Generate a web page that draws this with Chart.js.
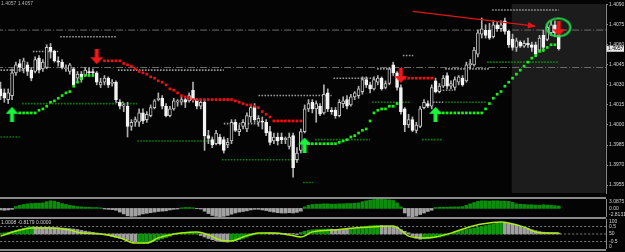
<!DOCTYPE html>
<html>
<head>
<meta charset="utf-8">
<script src="https://cdn.jsdelivr.net/npm/chart.js@4.4.0/dist/chart.umd.min.js"></script>
<style>
  html, body { margin: 0; padding: 0; background: #040404; width: 625px; height: 252px; overflow: hidden; }
  canvas { position: absolute; left: 0; }
  .sep { position: absolute; left: 0; width: 606px; height: 2px; background: #8a8a8a; }
</style>
</head>
<body>
<canvas id="main" width="625" height="197" style="top:0"></canvas>
<canvas id="osc1" width="625" height="18" style="top:199px"></canvas>
<canvas id="osc2" width="625" height="30" style="top:219px"></canvas>
<div class="sep" style="top:197px"></div>
<div class="sep" style="top:217px"></div>
<div class="sep" style="top:249px"></div>
<script>
const _ = null;

// price axis labels
const priceTicks = [1.4090, 1.4075, 1.4060, 1.4045, 1.4030, 1.4015, 1.4000, 1.3985, 1.3970, 1.3955];

// candles, one per bar index
const opens = [
  1.4027, 1.4024, 1.4019, 1.4022, 1.4039, 1.4046, 1.4042, 1.4045, 1.4041, 1.4040,
  1.4050, 1.4042, 1.4043, 1.4058, 1.4055, 1.4048, 1.4047, 1.4042, 1.4040, 1.4042,
  1.4035, 1.4038, 1.4037, 1.4040, 1.4040, 1.4039, 1.4030, 1.4032, 1.4035, 1.4031,
  1.4032, 1.4017, 1.4014, 1.4014, 1.3999, 1.4002, 1.4002, 1.4009, 1.4004, 1.4007,
  1.4013, 1.4019, 1.4020, 1.4014, 1.4007, 1.4012, 1.4017, 1.4017, 1.4019, 1.4018,
  1.4026, 1.4019, 1.4014, 1.4017, 1.3992, 1.3989, 1.3986, 1.3991, 1.3989, 1.3985,
  1.3988, 1.4002, 1.3995, 1.3999, 1.3997, 1.4006, 1.4014, 1.4002, 1.4003, 1.4002,
  1.3995, 1.3988, 1.3991, 1.3991, 1.3989, 1.3984, 1.3992, 1.3974, 1.3981, 1.3995,
  1.4012, 1.4017, 1.4012, 1.4014, 1.4009, 1.4024, 1.4011, 1.4011, 1.4007, 1.4016,
  1.4019, 1.4015, 1.4021, 1.4022, 1.4025, 1.4034, 1.4030, 1.4027, 1.4032, 1.4035,
  1.4028, 1.4031, 1.4045, 1.4039, 1.4028, 1.4012, 1.4000, 1.4004, 1.3996, 1.3999,
  1.4013, 1.4016, 1.4014, 1.4033, 1.4025, 1.4029, 1.4037, 1.4029, 1.4028, 1.4032,
  1.4035, 1.4033, 1.4045, 1.4045, 1.4053, 1.4068, 1.4071, 1.4071, 1.4066, 1.4075,
  1.4072, 1.4078, 1.4070, 1.4064, 1.4058, 1.4062, 1.4059, 1.4061, 1.4060, 1.4060,
  1.4056, 1.4067, 1.4064, 1.4069, 1.4075, 1.4067
];
const closes = [
  1.4022, 1.4020, 1.4024, 1.4039, 1.4045, 1.4043, 1.4048, 1.4040, 1.4035, 1.4049,
  1.4041, 1.4047, 1.4058, 1.4055, 1.4048, 1.4047, 1.4043, 1.4043, 1.4045, 1.4030,
  1.4038, 1.4034, 1.4041, 1.4039, 1.4039, 1.4032, 1.4032, 1.4035, 1.4030, 1.4032,
  1.4019, 1.4014, 1.4015, 1.3999, 1.4002, 1.4004, 1.4009, 1.4003, 1.4008, 1.4013,
  1.4018, 1.4020, 1.4014, 1.4007, 1.4012, 1.4018, 1.4018, 1.4019, 1.4017, 1.4022,
  1.4019, 1.4014, 1.4017, 1.3992, 1.3990, 1.3985, 1.3994, 1.3986, 1.3981, 1.3987,
  1.4002, 1.3996, 1.3997, 1.4002, 1.4007, 1.4013, 1.4004, 1.4005, 1.4002, 1.3994,
  1.3987, 1.3991, 1.3988, 1.3989, 1.3990, 1.3991, 1.3968, 1.3979, 1.3995, 1.4012,
  1.4016, 1.4012, 1.4016, 1.4008, 1.4023, 1.4012, 1.4010, 1.4007, 1.4017, 1.4018,
  1.4014, 1.4021, 1.4024, 1.4027, 1.4034, 1.4030, 1.4027, 1.4034, 1.4035, 1.4027,
  1.4031, 1.4042, 1.4039, 1.4028, 1.4010, 1.4000, 1.4004, 1.3996, 1.4000, 1.4012,
  1.4017, 1.4014, 1.4028, 1.4025, 1.4029, 1.4035, 1.4029, 1.4031, 1.4034, 1.4036,
  1.4030, 1.4045, 1.4046, 1.4056, 1.4069, 1.4072, 1.4067, 1.4065, 1.4075, 1.4072,
  1.4075, 1.4070, 1.4060, 1.4058, 1.4063, 1.4059, 1.4061, 1.4060, 1.4058, 1.4053,
  1.4065, 1.4058, 1.4073, 1.4075, 1.4069, 1.4057
];
const highs = [
  1.4032, 1.4027, 1.4027, 1.4042, 1.4047, 1.4049, 1.4050, 1.4047, 1.4043, 1.4051,
  1.4052, 1.4049, 1.4060, 1.4061, 1.4056, 1.4051, 1.4049, 1.4045, 1.4046, 1.4043,
  1.4040, 1.4040, 1.4043, 1.4043, 1.4042, 1.4040, 1.4035, 1.4037, 1.4036, 1.4034,
  1.4033, 1.4019, 1.4016, 1.4017, 1.4004, 1.4006, 1.4012, 1.4012, 1.4010, 1.4015,
  1.4019, 1.4024, 1.4022, 1.4016, 1.4014, 1.4020, 1.4019, 1.4021, 1.4020, 1.4024,
  1.4032, 1.4020, 1.4019, 1.4019, 1.3996, 1.3991, 1.3996, 1.3993, 1.3991, 1.3990,
  1.4004, 1.4004, 1.4000, 1.4004, 1.4009, 1.4015, 1.4016, 1.4007, 1.4006, 1.4004,
  1.3999, 1.3994, 1.3994, 1.3994, 1.3991, 1.3994, 1.3994, 1.3983, 1.3997, 1.4015,
  1.4019, 1.4019, 1.4018, 1.4016, 1.4030, 1.4027, 1.4013, 1.4013, 1.4019, 1.4021,
  1.4022, 1.4023, 1.4025, 1.4029, 1.4036, 1.4036, 1.4032, 1.4036, 1.4037, 1.4036,
  1.4033, 1.4043, 1.4047, 1.4040, 1.4030, 1.4013, 1.4008, 1.4006, 1.4002, 1.4014,
  1.4019, 1.4018, 1.4030, 1.4035, 1.4031, 1.4037, 1.4039, 1.4033, 1.4036, 1.4037,
  1.4037, 1.4047, 1.4049, 1.4058, 1.4071, 1.4080, 1.4075, 1.4076, 1.4078, 1.4077,
  1.4078, 1.4080, 1.4071, 1.4068, 1.4065, 1.4063, 1.4063, 1.4065, 1.4062, 1.4062,
  1.4067, 1.4071, 1.4075, 1.4078, 1.4078, 1.4068
];
const lows = [
  1.4019, 1.4017, 1.4016, 1.4019, 1.4037, 1.4040, 1.4039, 1.4037, 1.4033, 1.4039,
  1.4039, 1.4040, 1.4042, 1.4050, 1.4047, 1.4044, 1.4042, 1.4040, 1.4038, 1.4029,
  1.4033, 1.4032, 1.4037, 1.4037, 1.4037, 1.4030, 1.4028, 1.4030, 1.4028, 1.4029,
  1.4017, 1.4012, 1.4010, 1.3991, 1.3996, 1.3999, 1.3999, 1.4001, 1.4002, 1.4006,
  1.4012, 1.4018, 1.4012, 1.4006, 1.4006, 1.4011, 1.4014, 1.4015, 1.4013, 1.4017,
  1.4017, 1.4012, 1.4012, 1.3981, 1.3986, 1.3983, 1.3985, 1.3985, 1.3979, 1.3983,
  1.3986, 1.3995, 1.3992, 1.3997, 1.3995, 1.4002, 1.4002, 1.3999, 1.3997, 1.3992,
  1.3985, 1.3986, 1.3985, 1.3986, 1.3986, 1.3982, 1.3961, 1.3972, 1.3979, 1.3994,
  1.4010, 1.4009, 1.4002, 1.4007, 1.4008, 1.4010, 1.4008, 1.4005, 1.4006, 1.4013,
  1.4012, 1.4014, 1.4019, 1.4020, 1.4023, 1.4028, 1.4024, 1.4026, 1.4030, 1.4026,
  1.4027, 1.4030, 1.4037, 1.4026, 1.4008, 1.3995, 1.3998, 1.3995, 1.3994, 1.3998,
  1.4012, 1.4013, 1.4012, 1.4024, 1.4024, 1.4028, 1.4027, 1.4027, 1.4026, 1.4030,
  1.4029, 1.4032, 1.4042, 1.4044, 1.4051, 1.4065, 1.4065, 1.4064, 1.4065, 1.4070,
  1.4070, 1.4068, 1.4058, 1.4056, 1.4055, 1.4058, 1.4058, 1.4058, 1.4055, 1.4051,
  1.4055, 1.4055, 1.4063, 1.4067, 1.4066, 1.4056
];

// trailing stop dots: [first bar index, values...]
const upTrail = [
  [5, [1.4009, 1.4009, 1.4009, 1.4009, 1.4009, 1.4011, 1.4012, 1.4014, 1.4017, 1.4018,
       1.4020, 1.4022, 1.4024, 1.4025, 1.4029, 1.4032, 1.4035, 1.4037, 1.4037, 1.4037]],
  [80, [1.3986, 1.3986, 1.3986, 1.3986, 1.3986, 1.3986, 1.3986, 1.3986, 1.3987, 1.3988,
        1.3989, 1.3991, 1.3992, 1.3994, 1.3996, 1.3997, 1.4003, 1.4009, 1.4011, 1.4012,
        1.4012, 1.4014, 1.4014, 1.4016]],
  [114, [1.4009, 1.4009, 1.4009, 1.4009, 1.4009, 1.4009, 1.4009, 1.4009, 1.4009, 1.4009,
         1.4009, 1.4009, 1.4012, 1.4016, 1.4020, 1.4023, 1.4025, 1.4029, 1.4032, 1.4035,
         1.4038, 1.4041, 1.4044, 1.4047, 1.4050, 1.4052, 1.4055, 1.4056, 1.4058, 1.4060, 1.4060]]
];
const downTrail = [
  [27, [1.4048, 1.4048, 1.4048, 1.4048, 1.4048, 1.4046, 1.4045, 1.4044, 1.4042, 1.4040,
        1.4039, 1.4038, 1.4036, 1.4035, 1.4033, 1.4032, 1.4030, 1.4027, 1.4026, 1.4024,
        1.4022, 1.4021, 1.4020, 1.4019, 1.4019, 1.4019, 1.4019, 1.4019, 1.4019, 1.4019,
        1.4019, 1.4019, 1.4019, 1.4019, 1.4018, 1.4017, 1.4016, 1.4015, 1.4015, 1.4014,
        1.4013, 1.4010, 1.4008, 1.4006, 1.4003, 1.4003, 1.4003, 1.4003, 1.4003, 1.4003,
        1.4003, 1.4003]],
  [105, [1.4035, 1.4035, 1.4035, 1.4035, 1.4035, 1.4035, 1.4035, 1.4035]]
];

// signal arrows [bar index, price]
const buyArrows = [[3, 1.4008], [79, 1.3985], [113, 1.4008]];
const sellArrows = [[25, 1.4051], [104, 1.4037], [145, 1.4072]];

// fractal levels [from bar, to bar, price]
const grayLevels = [
  [0, 6, 1.4041], [8.4, 15, 1.4055], [15.5, 30.3, 1.4066], [30, 32, 1.4017], [30.5, 58, 1.4041],
  [58, 67, 1.4001], [67, 86, 1.4022], [86.5, 97, 1.4035], [97.8, 101.8, 1.4042], [104.5, 107.2, 1.4052],
  [112.3, 115, 1.4017], [113.3, 117.5, 1.4026], [115.5, 127, 1.4042], [127.7, 145, 1.4086]
];
const greenLevels = [
  [5.6, 35.5, 1.4016], [0, 5, 1.3991], [35.5, 56.5, 1.3988], [57.5, 77.8, 1.3974], [78.6, 81.2, 1.3957],
  [81.7, 96, 1.3989], [96.5, 106.4, 1.4017], [109.5, 115, 1.3989], [115.5, 126, 1.4017], [126.4, 145, 1.4047]
];
const dashDotLevels = [1.4071, 1.4043];

// drawn objects
const trendLine = [[107.1, 1.4085], [138.8, 1.4074]];
const circleMark = [[144.9, 1.4073]];
const shadeFrom = 132.8;

// lower panel 1 histogram
const osc1 = [
  -0.5, -0.6, -0.5, -0.3, 0.6, 1.0, 1.3, 1.5, 1.6, 1.7,
  1.7, 1.8, 2.2, 2.5, 2.4, 2.0, 1.6, 1.3, 1.0, 0.8,
  0.6, 0.5, 0.4, 0.4, 0.3, 0.3, 0.2, -0.2, -0.3, -0.4,
  -0.6, -1.2, -1.8, -2.4, -2.6, -2.5, -2.2, -1.8, -1.6, -1.4,
  -1.2, -1.0, -0.9, -0.8, -0.5, -0.3, -0.2, 0.2, 0.3, 0.3,
  0.2, -0.1, -0.2, -0.9, -1.7, -2.3, -2.6, -2.7, -2.6, -2.3,
  -1.9, -1.5, -1.2, -1.0, -0.8, -0.5, -0.3, -0.3, -0.5, -0.7,
  -1.0, -1.2, -1.4, -1.5, -1.5, -1.4, -1.5, -1.3, -0.9, 0.5,
  1.0, 1.3, 1.4, 1.4, 1.5, 1.5, 1.4, 1.4, 1.5, 1.5,
  1.6, 1.6, 1.7, 1.8, 2.2, 2.5, 2.7, 2.9, 3.0, 3.0,
  2.9, 2.8, 2.6, 1.8, 0.5, -1.5, -2.6, -2.7, -2.5, -2.0,
  -1.5, -1.0, -0.6, 0.3, 0.4, 0.4, 0.4, 0.5, 0.5, 0.5,
  0.6, 1.0, 1.5, 1.9, 2.3, 2.5, 2.5, 2.4, 2.5, 2.5,
  2.4, 2.4, 2.3, 2.0, 1.5, 1.4, 1.3, 1.2, 1.2, 1.1,
  1.0, 1.2, 1.1, 1.0, 0.9, 0.8
];
const osc1Labels = [[3.0875, '3.0875'], [0, '0.00'], [-2.8131, '-2.8131']];

// lower panel 2: two histogram buffers and a signal line
const histGreen = [
  0.05, 0.08, 0.12, 0.18, 0.25, 0.32, 0.38, 0.44, 0.48, _,
  _, _, _, _, _, _, _, _, _, _,
  _, _, _, _, _, _, _, _, _, _,
  _, _, _, _, _, _, -0.60, -0.62, -0.60, -0.55,
  -0.48, -0.40, -0.32, -0.24, -0.16, 0.04, 0.07, 0.09, 0.10, 0.10,
  0.09, 0.06, _, _, _, _, _, _, _, _,
  -0.50, -0.45, -0.38, -0.30, -0.22, -0.12, -0.05, 0.03, 0.06, 0.08,
  _, _, _, _, _, _, _, _, 0.10, 0.18,
  0.24, 0.28, 0.30, 0.31, 0.32, 0.33, _, _, _, _,
  _, 0.35, 0.40, 0.44, 0.48, 0.52, 0.55, 0.57, 0.58, _,
  _, _, _, _, _, _, _, _, _, _,
  -0.33, -0.30, -0.27, -0.24, -0.20, -0.14, -0.08, 0.05, 0.12, 0.18,
  0.24, 0.30, 0.35, 0.40, 0.45, 0.50, 0.56, 0.62, 0.67, 0.71,
  0.74, _, _, _, _, _, _, _, _, _,
  _, _, _, _, _, _
];
const histGray = [
  _, _, _, _, _, _, _, _, _, 0.47,
  0.46, 0.45, 0.45, 0.44, 0.43, 0.42, 0.40, 0.38, 0.36, 0.33,
  0.30, 0.24, 0.19, 0.15, 0.11, 0.07, 0.03, -0.05, -0.10, -0.16,
  -0.22, -0.28, -0.34, -0.40, -0.46, -0.52, _, _, _, _,
  _, _, _, _, _, _, _, _, _, _,
  _, _, -0.10, -0.20, -0.30, -0.38, -0.45, -0.50, -0.52, -0.54,
  _, _, _, _, _, _, _, _, _, _,
  0.08, 0.07, 0.06, 0.05, 0.04, 0.03, 0.02, -0.03, _, _,
  _, _, _, _, _, _, 0.32, 0.31, 0.30, 0.30,
  0.31, _, _, _, _, _, _, _, _, 0.57,
  0.55, 0.53, 0.50, 0.45, 0.28, 0.18, 0.08, -0.15, -0.28, -0.35,
  _, _, _, _, _, _, _, _, _, _,
  _, _, _, _, _, _, _, _, _, _,
  _, 0.73, 0.70, 0.65, 0.58, 0.50, 0.42, 0.35, 0.28, 0.22,
  0.16, 0.12, 0.10, 0.08, 0.07, 0.06
];
const signalLine = [
  [0, 43], [5, 63], [8, 70], [13, 70], [18, 63], [21, 53], [26, 50], [31, 37], [35, 20], [38, 20],
  [41, 37], [47, 53], [51, 57], [54, 47], [57, 30], [60, 27], [63, 40], [67, 53], [71, 53], [75, 47],
  [78, 40], [81, 57], [86, 63], [92, 70], [102, 77], [104, 63], [106, 43], [110, 37], [113, 40], [117, 53],
  [121, 70], [125, 83], [130, 90], [132, 87], [136, 73], [139, 57], [143, 53], [145, 53]
];
const osc2Levels = [0.5, 0, -0.5];
const osc2Labels = [[100, '100'], [75, '0.5'], [50, '50'], [25, '-0.5'], [0, '0']];
const osc2Caption = '1.0008 -0.8179 0.0000';

// ---------------------------------------------------------------
Chart.defaults.font.family = "'Liberation Sans', 'DejaVu Sans', sans-serif";
Chart.defaults.font.size = 5;
Chart.defaults.color = '#d4d4d4';

const xMin = -0.13, xMax = 157.27;
const axisColor = '#8a8a8a';
const labelColor = '#d4d4d4';

function arrowImage(color, up) {
  const c = document.createElement('canvas');
  c.width = 13; c.height = 15;
  const g = c.getContext('2d');
  g.fillStyle = color;
  g.beginPath();
  [[0, 7], [6.5, 0], [13, 7], [8.5, 7], [8.5, 15], [4.5, 15], [4.5, 7]].forEach(([x, y], k) => {
    const yy = up ? y : 15 - y;
    if (k) g.lineTo(x, yy); else g.moveTo(x, yy);
  });
  g.closePath();
  g.fill();
  return c;
}
function ellipseImage(color) {
  const c = document.createElement('canvas');
  c.width = 28; c.height = 22;
  const g = c.getContext('2d');
  g.strokeStyle = color;
  g.lineWidth = 2;
  g.beginPath();
  g.ellipse(14, 11, 12, 9, 0, 0, Math.PI * 2);
  g.stroke();
  return c;
}

function levelSets(levels, color, order) {
  return levels.map(([a, b, p]) => ({
    type: 'line', data: [{ x: a, y: p }, { x: b, y: p }], order,
    borderColor: color, borderWidth: 1.6, borderDash: [1.6, 1.4], pointRadius: 0
  }));
}
function trailPoints(segments) {
  const pts = [];
  segments.forEach(([start, vals]) => vals.forEach((v, k) => pts.push({ x: start + k, y: v })));
  return pts;
}
function sideLabels(axisId, items, caption) {
  return {
    id: 'sideLabels',
    afterDraw(chart) {
      const s = chart.scales[axisId], a = chart.chartArea, ctx = chart.ctx;
      ctx.save();
      ctx.font = "5px 'Liberation Sans'";
      ctx.fillStyle = labelColor;
      ctx.textBaseline = 'middle';
      items.forEach(([v, t]) => {
        const y = Math.min(Math.max(s.getPixelForValue(v), a.top + 2.8), a.bottom - 2.5);
        ctx.fillText(t, a.right + 3, y);
      });
      if (caption) ctx.fillText(caption, 1, a.top + 3.5);
      ctx.restore();
    }
  };
}
const rightAxisFit = s => { s.width = 19; };
const baseOptions = {
  responsive: false, animation: false, events: [],
  layout: { padding: 0, autoPadding: false },
  plugins: { legend: { display: false }, tooltip: { enabled: false } }
};
const xAxis = { type: 'linear', min: xMin, max: xMax, display: false, offset: false };

// ---------------- main price chart ----------------
const shadePlugin = {
  id: 'shade',
  beforeDatasetsDraw(chart) {
    const a = chart.chartArea, ctx = chart.ctx;
    const x0 = chart.scales.x.getPixelForValue(shadeFrom);
    ctx.save();
    ctx.fillStyle = '#1c1c1c';
    ctx.fillRect(x0, a.top, a.right - 0.5 - x0, a.bottom - a.top);
    ctx.restore();
  }
};
const arrowHeadPlugin = {
  id: 'arrowHead',
  afterDatasetsDraw(chart) {
    const idx = chart.data.datasets.findIndex(d => d.label === 'trend');
    const pts = chart.getDatasetMeta(idx).data;
    const a = pts[0], b = pts[1];
    const ang = Math.atan2(b.y - a.y, b.x - a.x);
    const ctx = chart.ctx;
    ctx.save();
    ctx.translate(b.x, b.y);
    ctx.rotate(ang);
    ctx.fillStyle = '#e31414';
    ctx.beginPath();
    ctx.moveTo(1, 0); ctx.lineTo(-7, -3.2); ctx.lineTo(-7, 3.2);
    ctx.closePath(); ctx.fill();
    ctx.restore();
  }
};
const priceTagPlugin = {
  id: 'priceTag',
  afterDraw(chart) {
    const last = closes[closes.length - 1];
    const y = chart.scales.y.getPixelForValue(last);
    const x = chart.chartArea.right;
    const ctx = chart.ctx;
    ctx.save();
    ctx.fillStyle = '#e6e6e6';
    ctx.fillRect(x + 0.5, y - 3, 17.5, 6);
    ctx.fillStyle = '#000';
    ctx.font = "5px 'Liberation Sans'";
    ctx.textBaseline = 'middle';
    ctx.fillText(last.toFixed(4), x + 2, y + 0.3);
    ctx.fillStyle = '#b4b4b4';
    ctx.fillText(last.toFixed(4) + ' ' + last.toFixed(4), 1, 4);
    ctx.restore();
  }
};

const bear = (o, c) => c < o;
new Chart(document.getElementById('main'), {
  type: 'bar',
  data: {
    datasets: [
      ...dashDotLevels.map(p => ({
        type: 'line', data: [{ x: xMin - 1, y: p }, { x: xMax + 1, y: p }], order: 12,
        borderColor: '#6c6c6c', borderWidth: 1, borderDash: [7, 2, 1, 2], pointRadius: 0
      })),
      ...levelSets(grayLevels, '#9a9a9a', 11),
      ...levelSets(greenLevels, '#0a800a', 11),
      {
        type: 'bar', label: 'wicks', order: 9, grouped: false, barThickness: 1,
        data: highs.map((h, i) => ({ x: i, y: [lows[i], h] })),
        backgroundColor: '#b0b0b0'
      },
      {
        type: 'bar', label: 'bodies', order: 8, grouped: false, barThickness: 3, minBarLength: 1,
        data: opens.map((o, i) => ({ x: i, y: [o, closes[i]] })),
        borderSkipped: false, borderWidth: 1,
        backgroundColor: c => (c.raw && bear(c.raw.y[0], c.raw.y[1])) ? '#f4f4f4' : '#000000',
        borderColor: c => (c.raw && bear(c.raw.y[0], c.raw.y[1])) ? '#f4f4f4' : '#c4c4c4'
      },
      {
        type: 'line', label: 'up trail', order: 6, showLine: false, data: trailPoints(upTrail),
        pointStyle: 'rect', pointRadius: 1.9, pointBorderWidth: 0, pointBackgroundColor: '#18f018'
      },
      {
        type: 'line', label: 'down trail', order: 6, showLine: false, data: trailPoints(downTrail),
        pointStyle: 'rect', pointRadius: 1.9, pointBorderWidth: 0, pointBackgroundColor: '#ee1010'
      },
      {
        type: 'line', label: 'trend', order: 4, data: trendLine.map(([x, y]) => ({ x, y })),
        borderColor: '#e31414', borderWidth: 1.3, pointRadius: 0
      },
      {
        type: 'line', label: 'buy', order: 3, showLine: false, data: buyArrows.map(([x, y]) => ({ x, y })),
        pointStyle: arrowImage('#19f53a', true), pointRadius: 6
      },
      {
        type: 'line', label: 'sell', order: 3, showLine: false, data: sellArrows.map(([x, y]) => ({ x, y })),
        pointStyle: arrowImage('#f01818', false), pointRadius: 6
      },
      {
        type: 'line', label: 'circle', order: 2, showLine: false, data: circleMark.map(([x, y]) => ({ x, y })),
        pointStyle: ellipseImage('#22d84a'), pointRadius: 10
      }
    ]
  },
  options: {
    ...baseOptions,
    scales: {
      x: xAxis,
      y: {
        position: 'right', min: 1.39491, max: 1.40905,
        afterBuildTicks: s => { s.ticks = priceTicks.map(v => ({ value: v })); },
        afterFit: rightAxisFit,
        grid: { drawOnChartArea: false, drawTicks: true, tickLength: 2, color: axisColor },
        border: { color: axisColor },
        ticks: { autoSkip: false, padding: 1, color: labelColor, callback: v => v.toFixed(4) }
      }
    }
  },
  plugins: [shadePlugin, arrowHeadPlugin, priceTagPlugin]
});

// ---------------- panel 1 ----------------
new Chart(document.getElementById('osc1'), {
  type: 'bar',
  data: {
    datasets: [{
      data: osc1.map((v, i) => ({ x: i, y: v })), barThickness: 3, grouped: false,
      backgroundColor: c => (c.raw && c.raw.y >= 0) ? '#0c8e0c' : '#a2a2a2'
    }]
  },
  options: {
    ...baseOptions,
    scales: {
      x: xAxis,
      y: {
        position: 'right', min: -2.8131, max: 3.0875, afterFit: rightAxisFit,
        grid: { display: false }, border: { color: axisColor }, ticks: { display: false }
      }
    }
  },
  plugins: [sideLabels('y', osc1Labels)]
});

// ---------------- panel 2 ----------------
const toPts = arr => arr.map((v, i) => (v === null ? null : { x: i, y: v })).filter(Boolean);
new Chart(document.getElementById('osc2'), {
  type: 'bar',
  data: {
    datasets: [
      ...osc2Levels.map(p => ({
        type: 'line', yAxisID: 'yh', order: 10, data: [{ x: xMin - 1, y: p }, { x: xMax + 1, y: p }],
        borderColor: '#7a7a7a', borderWidth: 1, borderDash: [2, 2], pointRadius: 0
      })),
      { data: toPts(histGreen), yAxisID: 'yh', order: 5, barThickness: 3, grouped: false, backgroundColor: '#10960f' },
      { data: toPts(histGray), yAxisID: 'yh', order: 5, barThickness: 3, grouped: false, backgroundColor: '#a0a0a0' },
      {
        type: 'line', yAxisID: 'yl', order: 1, data: signalLine.map(([x, y]) => ({ x, y })),
        borderColor: '#a8ec16', borderWidth: 1.5, pointRadius: 0, cubicInterpolationMode: 'monotone'
      }
    ]
  },
  options: {
    ...baseOptions,
    scales: {
      x: xAxis,
      yh: { display: false, min: -1, max: 1 },
      yl: {
        position: 'right', min: 0, max: 100, afterFit: rightAxisFit,
        grid: { display: false }, border: { color: axisColor }, ticks: { display: false }
      }
    }
  },
  plugins: [sideLabels('yl', osc2Labels, osc2Caption)]
});
</script>
</body>
</html>
